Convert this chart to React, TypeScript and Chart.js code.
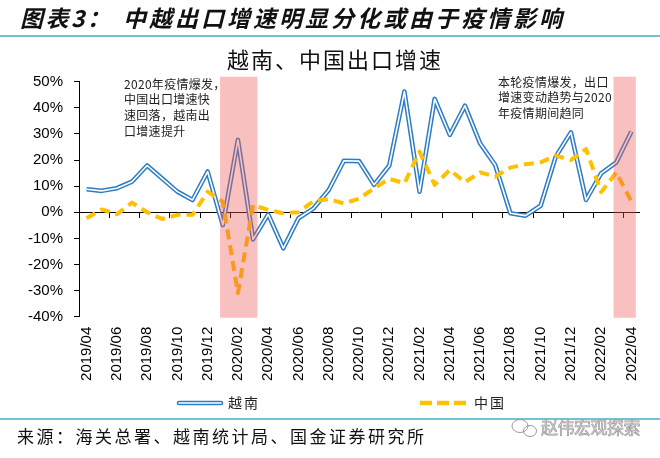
import React, { useEffect, useRef } from 'react';
import { Chart, registerables } from 'chart.js';

Chart.register(...registerables);

// ---------- data ----------
const months = [
  '2019/04', '2019/05', '2019/06', '2019/07', '2019/08', '2019/09', '2019/10', '2019/11', '2019/12',
  '2020/01', '2020/02', '2020/03', '2020/04', '2020/05', '2020/06', '2020/07', '2020/08', '2020/09',
  '2020/10', '2020/11', '2020/12', '2021/01', '2021/02', '2021/03', '2021/04', '2021/05', '2021/06',
  '2021/07', '2021/08', '2021/09', '2021/10', '2021/11', '2021/12', '2022/01', '2022/02', '2022/03',
  '2022/04',
];

const vietnamGrowth = [
  8.8, 8.2, 9.2, 11.7, 17.9, 12.9, 7.9, 4.7, 15.6,
  -4.9, 27.7, -10.4, -0.8, -13.8, -2.3, 1.5, 8.5, 19.7,
  19.6, 10.5, 17.9, 46.2, 7.9, 43.4, 29.6, 40.8, 26.4,
  18.1, -0.4, -1.3, 2.5, 21.3, 30.6, 4.7, 14.9, 19.1,
  30.9,
];

const chinaGrowth = [
  -2.3, 1.1, -0.8, 3.7, 0.0, -2.6, -1.0, -1.0, 7.9,
  4.0, -31.0, 2.8, 0.9, -0.4, 0.0, 4.3, 5.0, 3.4,
  5.2, 9.2, 12.8, 11.1, 23.2, 10.5, 16.2, 11.5, 15.3,
  13.6, 17.1, 18.4, 19.1, 21.7, 20.0, 24.2, 7.7, 15.3,
  4.1,
];

const shadedPeriods = [
  ['2020/01', '2020/03'],
  ['2022/03', '2022/04'],
];

const yMin = -40;
const yMax = 50;
const yStep = 10;

const seriesNames = ['中国', '越南'];

// ---------- text ----------
const titlePrefix = '图表3：';
const titleMain = '中越出口增速明显分化或由于疫情影响';
const chartTitle = '越南、中国出口增速';
const note1 = ['2020年疫情爆发，', '中国出口增速快', '速回落，越南出', '口增速提升'];
const note2 = ['本轮疫情爆发，出口', '增速变动趋势与2020', '年疫情期间趋同'];
const sourceText = '来源：海关总署、越南统计局、国金证券研究所';
const watermark = '赵伟宏观探索';

// ---------- style ----------
const CJK = '"Noto Sans CJK SC", "Noto Sans", sans-serif';
const NUM = '"Liberation Sans", Arial, sans-serif';
const VN_BLUE = '#2D7CC4';
const CN_YELLOW = '#FFC000';
const TEAL = '#4BACC6';

function spaced(ctx: CanvasRenderingContext2D, text: string, x: number, y: number, gap: number) {
  let cx = x;
  for (const ch of Array.from(text)) {
    ctx.fillText(ch, cx, y);
    cx += ctx.measureText(ch).width + gap;
  }
  return cx;
}

const backgroundPlugin = {
  id: 'bg',
  beforeDraw(chart: any) {
    const ctx = chart.ctx;
    ctx.save();
    ctx.fillStyle = '#fff';
    ctx.fillRect(0, 0, chart.width, chart.height);
    ctx.restore();
  },
};

const shadePlugin = {
  id: 'shade',
  afterDatasetsDraw(chart: any) {
    const ctx = chart.ctx;
    const xs = chart.scales.x;
    const { top, bottom } = chart.chartArea;
    const w = (xs.right - xs.left) / months.length;
    ctx.save();
    ctx.fillStyle = 'rgba(240, 90, 90, 0.38)';
    shadedPeriods.forEach(([a, b]) => {
      const x1 = xs.getPixelForValue(months.indexOf(a)) - 0.18 * w;
      const x2 = xs.getPixelForValue(months.indexOf(b)) + 0.29 * w;
      ctx.fillRect(x1, top - 5, x2 - x1, bottom - top + 6);
    });
    ctx.restore();
  },
};

const overlayPlugin = {
  id: 'overlay',
  afterDraw(chart: any) {
    const ctx: CanvasRenderingContext2D = chart.ctx;
    const W = chart.width;
    ctx.save();
    ctx.textBaseline = 'middle';
    ctx.textAlign = 'left';

    // main title
    ctx.fillStyle = '#111';
    ctx.font = `italic bold 23px ${CJK}`;
    spaced(ctx, titlePrefix, 20, 18, 2.5);
    spaced(ctx, titleMain, 123, 18, 3);

    // separator lines
    ctx.strokeStyle = TEAL;
    ctx.lineWidth = 1.5;
    ctx.beginPath();
    ctx.moveTo(0, 36);
    ctx.lineTo(W, 36);
    ctx.moveTo(0, 419);
    ctx.lineTo(W, 419);
    ctx.stroke();

    // chart title
    ctx.fillStyle = '#111';
    ctx.font = `22px ${CJK}`;
    spaced(ctx, chartTitle, 227, 60, 2);

    // annotations
    ctx.fillStyle = '#222';
    ctx.font = `12px ${CJK}`;
    note1.forEach((line, i) => spaced(ctx, line, 124, 84 + i * 15.9, 0.3));
    note2.forEach((line, i) => spaced(ctx, line, 498, 82 + i * 15.9, 0.3));

    // legend
    const ly = 403;
    const vnLabel = chart.data.datasets[2].label;
    const cnLabel = chart.data.datasets[0].label;
    ctx.lineCap = 'round';
    ctx.strokeStyle = VN_BLUE;
    ctx.lineWidth = 4.6;
    ctx.beginPath();
    ctx.moveTo(179, ly);
    ctx.lineTo(221, ly);
    ctx.stroke();
    ctx.strokeStyle = '#fff';
    ctx.lineWidth = 1.6;
    ctx.beginPath();
    ctx.moveTo(179, ly);
    ctx.lineTo(221, ly);
    ctx.stroke();
    ctx.lineCap = 'butt';
    ctx.setLineDash([12, 5]);
    ctx.strokeStyle = CN_YELLOW;
    ctx.lineWidth = 4.5;
    ctx.beginPath();
    ctx.moveTo(420, ly);
    ctx.lineTo(466, ly);
    ctx.stroke();
    ctx.setLineDash([]);
    ctx.fillStyle = '#222';
    ctx.font = `14px ${CJK}`;
    spaced(ctx, vnLabel, 228, ly, 2);
    spaced(ctx, cnLabel, 474, ly, 2);

    // source
    ctx.fillStyle = '#111';
    ctx.font = `17px ${CJK}`;
    spaced(ctx, sourceText, 17, 437, 2.5);

    // watermark
    ctx.strokeStyle = '#9a9a9a';
    ctx.lineWidth = 1;
    ctx.beginPath();
    ctx.ellipse(520, 426, 8, 6.5, 0, 0, Math.PI * 2);
    ctx.stroke();
    ctx.beginPath();
    ctx.ellipse(530, 431, 6.5, 5.5, 0, 0, Math.PI * 2);
    ctx.stroke();
    ctx.font = `17px ${CJK}`;
    ctx.fillStyle = '#e4e4e4';
    ctx.lineWidth = 0.7;
    let cx = 541;
    for (const ch of Array.from(watermark)) {
      ctx.fillText(ch, cx, 428);
      ctx.strokeText(ch, cx, 428);
      cx += ctx.measureText(ch).width - 0.5;
    }

    ctx.restore();
  },
};

export default function App() {
  const ref = useRef<HTMLCanvasElement>(null);

  useEffect(() => {
    const canvas = ref.current;
    if (!canvas) return;
    const chart = new Chart(canvas, {
      type: 'line',
      data: {
        labels: months,
        datasets: [
          {
            label: seriesNames[0],
            data: chinaGrowth,
            borderColor: CN_YELLOW,
            borderWidth: 4,
            borderDash: [10, 6],
            borderJoinStyle: 'round',
            pointRadius: 0,
            tension: 0,
            fill: false,
          },
          {
            label: '',
            data: vietnamGrowth,
            borderColor: '#ffffff',
            borderWidth: 1.6,
            borderJoinStyle: 'round',
            pointRadius: 0,
            tension: 0,
            fill: false,
          },
          {
            label: seriesNames[1],
            data: vietnamGrowth,
            borderColor: VN_BLUE,
            borderWidth: 4.6,
            borderJoinStyle: 'round',
            pointRadius: 0,
            tension: 0,
            fill: false,
          },
        ],
      },
      options: {
        responsive: false,
        animation: false,
        events: [],
        layout: { padding: { left: 0, right: 21, top: 81.7, bottom: 75.3 } },
        plugins: {
          legend: { display: false },
          tooltip: { enabled: false },
          title: { display: false },
        },
        scales: {
          x: {
            type: 'category',
            position: 'bottom',
            offset: true,
            grid: { display: false, drawTicks: false },
            border: { display: false },
            ticks: {
              autoSkip: false,
              maxRotation: 90,
              minRotation: 90,
              padding: 10,
              color: '#000',
              font: { family: NUM, size: 15 },
              callback: (_v: any, i: number) => (i % 2 === 0 ? months[i] : null),
            },
            afterFit: (s: any) => {
              s.height = 66;
            },
          },
          x2: {
            type: 'category',
            axis: 'x',
            position: { y: 0 },
            offset: true,
            labels: months,
            grid: {
              offset: true,
              drawOnChartArea: false,
              drawTicks: true,
              tickLength: 5,
              lineWidth: 1,
              color: '#000',
              tickColor: (c: any) => (c.index % 2 === 0 ? '#000' : 'rgba(0,0,0,0)'),
            },
            border: { display: true, color: '#000', width: 1 },
            ticks: { display: false },
          },
          y: {
            type: 'linear',
            min: yMin,
            max: yMax,
            ticks: {
              stepSize: yStep,
              padding: 11,
              color: '#000',
              font: { family: NUM, size: 15 },
              callback: (v: any) => `${v}%`,
            },
            grid: { drawOnChartArea: false, drawTicks: true, tickLength: 5, color: '#000', lineWidth: 1 },
            border: { display: true, color: '#000', width: 1 },
            afterFit: (s: any) => {
              s.width = 79;
            },
          },
        },
      } as any,
      plugins: [backgroundPlugin, shadePlugin, overlayPlugin],
    });
    return () => chart.destroy();
  }, []);

  return (
    <div style={{ position: 'fixed', left: 0, top: 0, width: 660, height: 458, background: '#fff' }}>
      <canvas ref={ref} width={660} height={458} style={{ display: 'block', width: 660, height: 458 }} />
    </div>
  );
}
